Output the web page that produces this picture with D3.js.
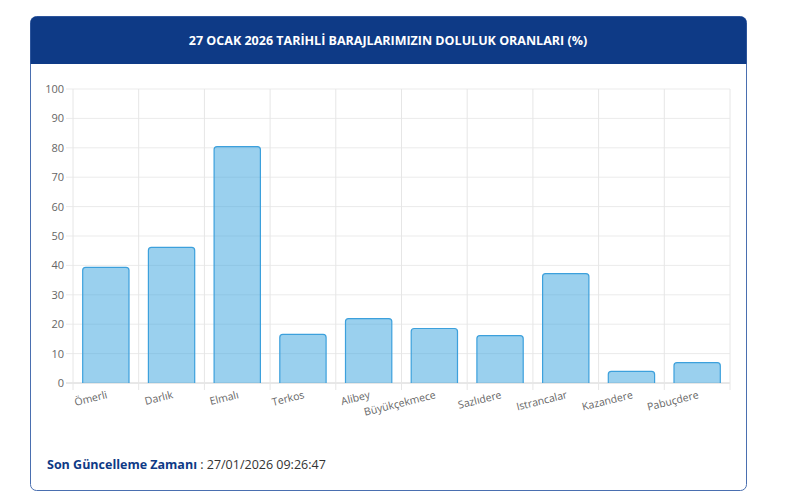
<!DOCTYPE html>
<html><head><meta charset="utf-8">
<script src="https://cdn.jsdelivr.net/npm/d3@7"></script>
<style>body{margin:0;background:#fff;font-family:"Open Sans",sans-serif}</style>
</head><body><svg id="c" width="800" height="502"></svg>
<script>
const categories=["Ömerli","Darlık","Elmalı","Terkos","Alibey","Büyükçekmece","Sazlıdere","Istrancalar","Kazandere","Pabuçdere"];
const values=[39.5,46.3,80.6,16.7,22.1,18.7,16.3,37.4,4.1,7.1];
const yTicks=[0,10,20,30,40,50,60,70,80,90,100];
const title="27 OCAK 2026 TARİHLİ BARAJLARIMIZIN DOLULUK ORANLARI (%)";
const svg=d3.select("#c");
svg.append("rect").attr("x",30.5).attr("y",16.5).attr("width",716).attr("height",474).attr("rx",6).attr("fill","#fff").attr("stroke","#4a6fb0");
svg.append("path").attr("d","M30.5,64 V22.5 a6,6 0 0 1 6,-6 H740.5 a6,6 0 0 1 6,6 V64 Z").attr("fill","#0e3a86");
svg.append("text").attr("x",388).attr("y",45).attr("text-anchor","middle").attr("fill","#fff").attr("font-size",12.5).attr("font-weight","bold").text(title);
const x=d3.scaleBand().domain(categories).range([73,730]).paddingInner(0.28).paddingOuter(0.14);
const xg=d3.scaleBand().domain(categories).range([73,730]);
const y=d3.scaleLinear().domain([0,100]).range([383,89]);
const g=svg.append("g");
g.selectAll(".hg").data(yTicks).join("line").attr("x1",66).attr("x2",730).attr("y1",d=>y(d)).attr("y2",d=>y(d)).attr("stroke",d=>d===0?"#d0d0d0":"#ebebeb");
const bounds=categories.map(c=>xg(c)).concat([730]);
g.selectAll(".vg").data(bounds).join("line").attr("x1",d=>d).attr("x2",d=>d).attr("y1",89).attr("y2",390).attr("stroke","#e6e6e6");
g.selectAll(".yt").data(yTicks).join("text").attr("x",64).attr("y",d=>y(d)+4).attr("text-anchor","end").attr("font-size",11).attr("fill","#666").text(d=>d);
g.selectAll(".bar").data(values).join("path")
 .attr("d",(v,i)=>{const x0=x(categories[i])+0.5,w=x.bandwidth()-1,y0=y(v)+0.5,b=y(0),r=3;
   return `M${x0},${b} V${y0+r} Q${x0},${y0} ${x0+r},${y0} H${x0+w-r} Q${x0+w},${y0} ${x0+w},${y0+r} V${b}`;})
 .attr("fill","rgba(54,162,222,0.5)").attr("stroke","#3ca0dc").attr("stroke-width",1.2);
g.selectAll(".xl").data(categories).join("text")
 .attr("transform",d=>`translate(${xg(d)+xg.bandwidth()/2+2},${398}) rotate(-14)`)
 .attr("text-anchor","end").attr("font-size",10.5).attr("fill","#666").text(d=>d);
const f=svg.append("text").attr("x",47).attr("y",469).attr("font-size",12.5);
f.append("tspan").attr("fill","#0e3a86").attr("font-weight","bold").text("Son Güncelleme Zamanı");
f.append("tspan").attr("fill","#333").text(" : 27/01/2026 09:26:47");
</script></body></html>
